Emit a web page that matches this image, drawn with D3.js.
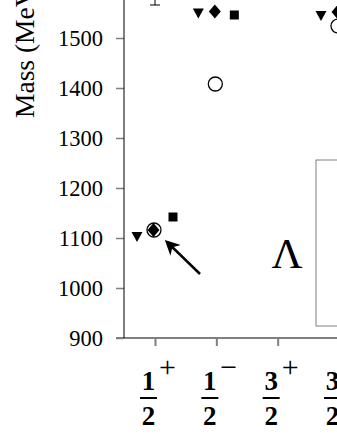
<!DOCTYPE html>
<html>
<head>
<meta charset="utf-8">
<script src="https://cdn.jsdelivr.net/npm/d3@7"></script>
<style>
  body { margin: 0; background: #fff; }
  svg { display: block; font-family: "Liberation Serif", "Times New Roman", serif; }
</style>
</head>
<body>
<svg id="chart" width="337" height="436"></svg>
<script>
// states, J^P
var categories = ["1/2+", "1/2-", "3/2+", "3/2-"];
var numerators = ["1", "1", "3", "3"];
var parities = ["+", "\u2212", "+", "\u2212"];

// masses (MeV), null = not shown
var triangleMass = [1102, 1549, null, 1544];
var diamondMass = [1116, 1553, null, 1552];
var squareMass = [1142, 1546, null, 1545];
var exptMass = [1116, 1408, null, 1524];

// error bar for 1/2+ excited state
var errLow = [1566, null, null, null];
var errHigh = [1720, null, null, null];

var yTicks = [900, 1000, 1100, 1200, 1300, 1400, 1500];

var svg = d3.select("#chart");
var gray = "#7f7f7f";

var y = d3.scaleLinear().domain([900, 1500]).range([338, 38]);
var x = d3.scalePoint().domain(categories).range([155, 339]);

// axes
svg.append("line")
  .attr("x1", 116).attr("x2", 337)
  .attr("y1", y(900)).attr("y2", y(900))
  .attr("stroke", gray).attr("stroke-width", 2);

var yAxis = svg.append("g")
  .attr("transform", "translate(124,0)")
  .call(d3.axisLeft(y).tickValues(yTicks).tickSize(8).tickSizeOuter(0)
    .tickPadding(13).tickFormat(d3.format("d")));
yAxis.select(".domain").remove();
yAxis.attr("font-family", "Liberation Serif, Times New Roman, serif").attr("font-size", 22.5);
yAxis.selectAll(".tick line").attr("stroke", gray).attr("stroke-width", 1.5);
yAxis.selectAll(".tick text").attr("fill", "#000").attr("dy", "0.34em");

svg.append("line")
  .attr("x1", 124).attr("x2", 124)
  .attr("y1", 0).attr("y2", y(900))
  .attr("stroke", "#000").attr("stroke-width", 1);

var xAxis = svg.append("g")
  .attr("transform", "translate(0," + y(900) + ")")
  .call(d3.axisBottom(x).tickSize(8).tickSizeOuter(0).tickFormat(""));
xAxis.select(".domain").remove();
xAxis.selectAll(".tick line").attr("stroke", gray).attr("stroke-width", 2);

// fraction tick labels
var lab = svg.append("g").selectAll("g")
  .data(categories)
  .enter()
  .append("g")
  .attr("transform", function(d) { return "translate(" + (x(d) - 6.5) + ",0)"; });
lab.append("text")
  .attr("y", 390).attr("text-anchor", "middle")
  .attr("font-size", 27).attr("font-weight", "bold")
  .text(function(d, i) { return numerators[i]; });
lab.append("line")
  .attr("x1", -8.5).attr("x2", 8.5).attr("y1", 398).attr("y2", 398)
  .attr("stroke", "#000").attr("stroke-width", 2);
lab.append("text")
  .attr("y", 425).attr("text-anchor", "middle")
  .attr("font-size", 27).attr("font-weight", "bold")
  .text("2");
lab.append("text")
  .attr("x", 19).attr("y", 377).attr("text-anchor", "middle")
  .attr("font-size", 30)
  .text(function(d, i) { return parities[i]; });

// y label
svg.append("text")
  .attr("transform", "translate(34,118) rotate(-90)")
  .attr("font-size", 27.5)
  .text("Mass (MeV)");

// legend box (cut off)
svg.append("rect")
  .attr("x", 316).attr("y", 160).attr("width", 60).attr("height", 166)
  .attr("fill", "none").attr("stroke", gray).attr("stroke-width", 1);

// Lambda
svg.append("text")
  .attr("x", 287).attr("y", 268).attr("text-anchor", "middle")
  .attr("font-size", 43)
  .text("\u039B");

// arrow
svg.append("defs").append("marker")
  .attr("id", "head").attr("viewBox", "0 0 10 10")
  .attr("refX", 8).attr("refY", 5)
  .attr("markerWidth", 6).attr("markerHeight", 6)
  .attr("orient", "auto")
  .append("path").attr("d", "M0,0 L10,5 L0,10 L3,5 Z").attr("fill", "#000");
svg.append("line")
  .attr("x1", 200).attr("y1", 274).attr("x2", 167).attr("y2", 242)
  .attr("stroke", "#000").attr("stroke-width", 2.5)
  .attr("marker-end", "url(#head)");

function pts(arr) {
  var out = [];
  arr.forEach(function(v, i) { if (v != null) out.push({c: categories[i], m: v}); });
  return out;
}

// error bar
var eb = pts(errLow).map(function(d) { return {c: d.c, lo: d.m, hi: errHigh[categories.indexOf(d.c)]}; });
var ebg = svg.append("g").selectAll("g").data(eb).enter().append("g");
ebg.append("line")
  .attr("x1", function(d) { return x(d.c); }).attr("x2", function(d) { return x(d.c); })
  .attr("y1", function(d) { return y(d.lo); }).attr("y2", function(d) { return y(d.hi); })
  .attr("stroke", "#000").attr("stroke-width", 1);
ebg.append("line")
  .attr("x1", function(d) { return x(d.c) - 5; }).attr("x2", function(d) { return x(d.c) + 5; })
  .attr("y1", function(d) { return y(d.lo); }).attr("y2", function(d) { return y(d.lo); })
  .attr("stroke", "#000").attr("stroke-width", 1);

// markers
svg.append("g").selectAll("path")
  .data(pts(triangleMass)).enter().append("path")
  .attr("transform", function(d) { return "translate(" + (x(d.c) - 18) + "," + y(d.m) + ")"; })
  .attr("d", "M-5.5,-5 L5.5,-5 L0,5 Z")
  .attr("fill", "#000");

svg.append("g").selectAll("path")
  .data(pts(diamondMass)).enter().append("path")
  .attr("transform", function(d) { return "translate(" + (x(d.c) - 1.5) + "," + y(d.m) + ")"; })
  .attr("d", "M0,-7 L6,0 L0,7 L-6,0 Z")
  .attr("fill", "#000");

svg.append("g").selectAll("rect")
  .data(pts(squareMass)).enter().append("rect")
  .attr("x", function(d) { return x(d.c) + 18 - 4.5; })
  .attr("y", function(d) { return y(d.m) - 4.5; })
  .attr("width", 9).attr("height", 9)
  .attr("fill", "#000");

svg.append("g").selectAll("circle")
  .data(pts(exptMass)).enter().append("circle")
  .attr("cx", function(d) { return x(d.c) - 1; })
  .attr("cy", function(d) { return y(d.m); })
  .attr("r", 7)
  .attr("fill", "none").attr("stroke", "#000").attr("stroke-width", 1.3);
</script>
</body>
</html>
